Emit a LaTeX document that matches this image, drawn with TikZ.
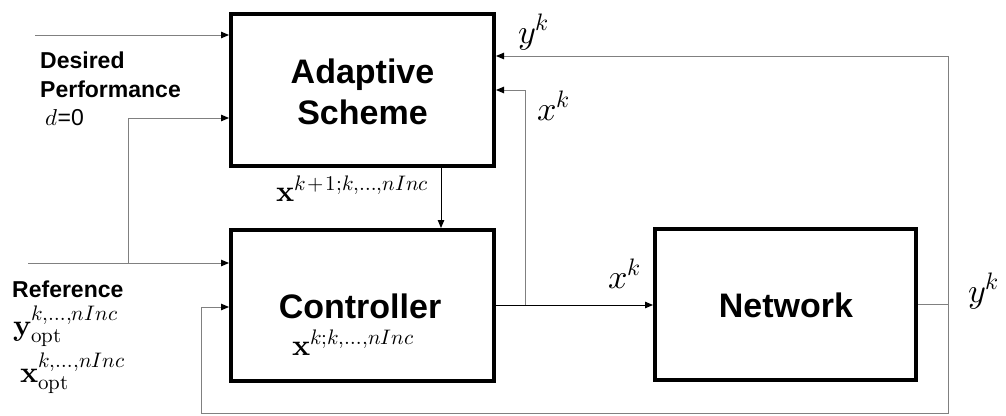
\documentclass[tikz,border=0pt]{standalone}
\usepackage{fontspec}
\usepackage{unicode-math}
\setmainfont{Liberation Sans}
\usetikzlibrary{arrows.meta}
\definecolor{lgray}{RGB}{128,128,128}
\begin{document}
\begin{tikzpicture}[x=1pt,y=-1pt,
  blk/.style={draw=black,line width=4pt,fill=white,inner sep=0pt},
  bigtxt/.style={font=\fontsize{34}{41}\selectfont\bfseries,align=center,inner sep=0pt},
  lbl/.style={font=\fontsize{23}{27}\selectfont\bfseries,anchor=base west,inner sep=0pt},
  mth/.style={font=\fontsize{30}{34}\selectfont,anchor=base west,inner sep=0pt},
  mths/.style={font=\fontsize{34}{38}\selectfont,anchor=base west,inner sep=0pt},
  wire/.style={draw=lgray,line width=1pt},
  arr/.style={wire,-{Triangle[length=8pt,width=6.5pt,color=black]}},
  barr/.style={draw=black,line width=1pt,-{Triangle[length=8pt,width=6.5pt,color=black]}}]
\useasboundingbox (0,0) rectangle (1006,415);
% blocks
\node[blk,minimum width=263pt,minimum height=152pt] (ada) at (362.5,90) {};
\node[bigtxt] (adat) at (362.5,91.5) {Adaptive\\Scheme};
\node[blk,minimum width=263pt,minimum height=151pt] (ctl) at (362.5,305.5) {};
\node[bigtxt,anchor=base] (ctlt) at (360,318) {Controller};
\node[blk,minimum width=261pt,minimum height=151pt] (net) at (785.5,304.5) {};
\node[bigtxt,anchor=base] (nett) at (786,317) {Network};
% coordinates
\coordinate (in1) at (35,35);
\coordinate (refin) at (28,263);
\coordinate (br) at (128,263);
\coordinate (dIn) at (128,118);
\coordinate (c2) at (201,307);
\coordinate (cb) at (201,413);
\coordinate (fr) at (948,304.5);
\coordinate (fb) at (948,413);
\coordinate (ft) at (948,56);
\coordinate (xb) at (525,305);
\coordinate (xt) at (525,90);
\coordinate (as) at (441,168);
% connectors
\draw[arr] (in1) -- (in1 -| ada.west);
\draw[arr] (refin) -- (refin -| ctl.west);
\draw[arr] (br) -- (dIn) -- (dIn -| ada.west);
\draw[wire] (net.east |- fr) -- (fr);
\draw[arr] (fr) -- (ft) -- (ft -| ada.east);
\draw[arr] (fr) -- (fb) -- (cb) -- (c2) -- (c2 -| ctl.west);
\draw[barr] (ctl.east |- xb) -- (xb -| net.west);
\draw[arr] (xb) -- (xt) -- (xt -| ada.east);
\draw[barr] (as |- ada.south) -- (as |- ctl.north);
% labels
\node[lbl] (l1) at (40,68) {Desired};
\node[lbl] (l2) at (40,97) {Performance};
\node[lbl,font=\fontsize{23}{27}\selectfont] (l3) at (45,125) {$d$=0};
\node[lbl] (l4) at (12,297) {Reference};
\node[mth] (m1) at (13,335) {$\symbf{y}_{\symup{opt}}^{k,\ldots,nInc}$};
\node[mth] (m2) at (20,382) {$\symbf{x}_{\symup{opt}}^{k,\ldots,nInc}$};
\node[mth] (m3) at (276,201) {$\symbf{x}^{k\mkern1.5mu+\mkern1.5mu1;k,\ldots,nInc}$};
\node[mth] (m4) at (292,355) {$\symbf{x}^{k;k,\ldots,nInc}$};
\node[mths] (m5) at (518,43) {$y^k$};
\node[mths] (m6) at (537,120) {$x^k$};
\node[mths] (m7) at (608,288) {$x^k$};
\node[mths] (m8) at (968,302) {$y^k$};
\end{tikzpicture}
\end{document}
